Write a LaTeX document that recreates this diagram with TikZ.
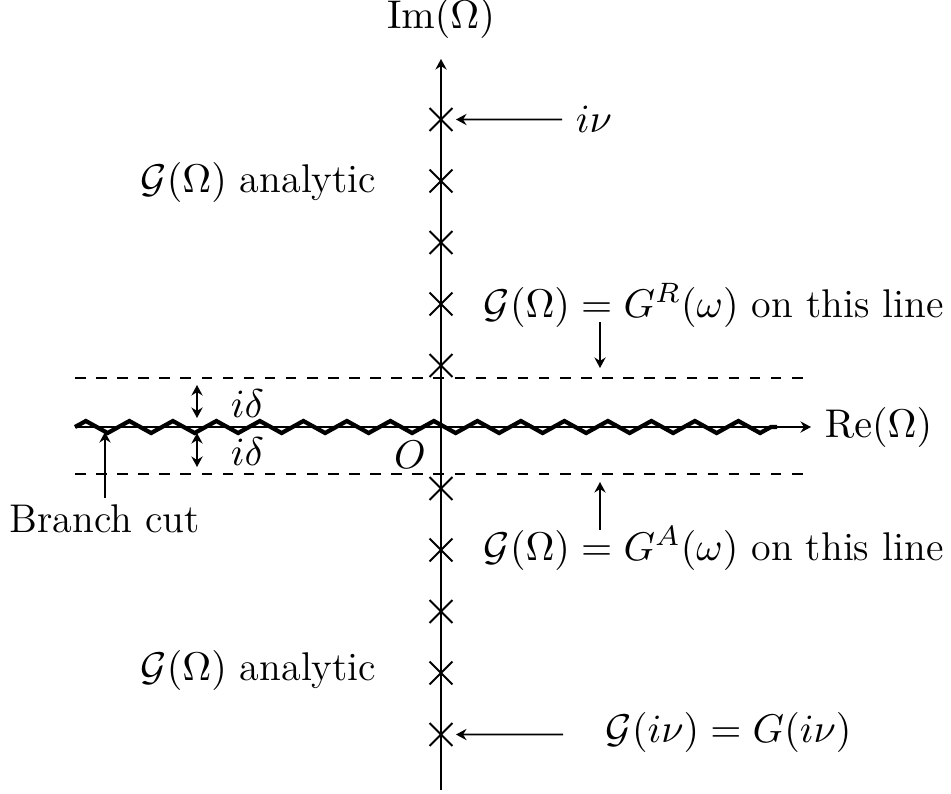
\RequirePackage{fix-cm}
\documentclass[11pt,tikz,border=0pt]{standalone}
\usepackage{amsmath}
\usepackage{tikz}
\usetikzlibrary{arrows.meta,shapes.misc,decorations.pathmorphing}

\tikzset{
  pole/.style={cross out, draw, minimum size=0.21cm, inner sep=0pt},
  cut/.style={line width=1.2pt, decorate,
    decoration={zigzag, segment length=0.435cm, amplitude=0.06cm}},
}

\begin{document}
\begin{tikzpicture}[line width=0.55pt, >={Stealth[length=3pt, width=3.2pt, inset=1pt]},
    font=\fontsize{11.4}{13.7}\selectfont]
  \useasboundingbox (-4.41,-3.66) rectangle (5.10,4.27);
  \coordinate (xl) at (-3.66, 0);
  \coordinate (zr) at (3.36, 0);
  \coordinate (yb) at (0, -3.63);
  \coordinate (yt) at (0, 3.68);
  \node[anchor=west] (re) at (3.70, 0) {$\mathrm{Re}(\Omega)$};
  \node[anchor=base] (im) at (0, 3.99) {$\mathrm{Im}(\Omega)$};
  \draw[->] (xl) -- (re.west);
  \draw[->] (yb) -- (yt);
  \draw[cut] (xl) -- (zr);
  \draw[dashed] (-3.66, 0.49) -- (3.67, 0.49);
  \draw[dashed] (-3.66, -0.47) -- (3.67, -0.47);
  \foreach \k in {1,...,5} {
    \node[pole] (pu\k) at (0, 0.615*\k) {};
    \node[pole] (pd\k) at (0, -0.615*\k) {};
  }
  \node (o) at (-0.31, -0.28) {$O$};
  \node[anchor=west] (inu) at (1.21, 3.075) {$i\nu$};
  \draw[->, shorten >=1pt] (inu) -- (pu5);
  \node[anchor=west] (giv) at (1.51, -3.05) {$\mathcal{G}(i\nu) = G(i\nu)$};
  \coordinate (givtail) at (1.22, -3.075);
  \draw[->, shorten >=1pt] (givtail) -- (pd5);
  \node[anchor=base east] (anu) at (-0.51, 2.35) {$\mathcal{G}(\Omega)$ analytic};
  \node[anchor=base east] (anl) at (-0.51, -2.53) {$\mathcal{G}(\Omega)$ analytic};
  \node[anchor=base west] (gr) at (0.29, 1.10) {$\mathcal{G}(\Omega) = G^R(\omega)$ on this line};
  \coordinate (grtail) at (1.59, 1.05);
  \coordinate (grhead) at (1.59, 0.59);
  \draw[->] (grtail) -- (grhead);
  \node[anchor=base west] (ga) at (0.29, -1.33) {$\mathcal{G}(\Omega) = G^A(\omega)$ on this line};
  \coordinate (gatail) at (1.59, -1.03);
  \coordinate (gahead) at (1.59, -0.55);
  \draw[->] (gatail) -- (gahead);
  \coordinate (du1) at (-2.44, 0.42);
  \coordinate (du2) at (-2.44, 0.09);
  \coordinate (dl1) at (-2.44, -0.06);
  \coordinate (dl2) at (-2.44, -0.40);
  \draw[<->] (du1) -- (du2);
  \draw[<->] (dl1) -- (dl2);
  \node[anchor=west] (du) at (-2.24, 0.23) {$i\delta$};
  \node[anchor=west] (dl) at (-2.24, -0.25) {$i\delta$};
  \node[anchor=base] (bc) at (-3.36, -1.05) {Branch cut};
  \coordinate (bctail) at (-3.36, -0.71);
  \coordinate (bchead) at (-3.36, -0.05);
  \draw[->] (bctail) -- (bchead);
\end{tikzpicture}
\end{document}
